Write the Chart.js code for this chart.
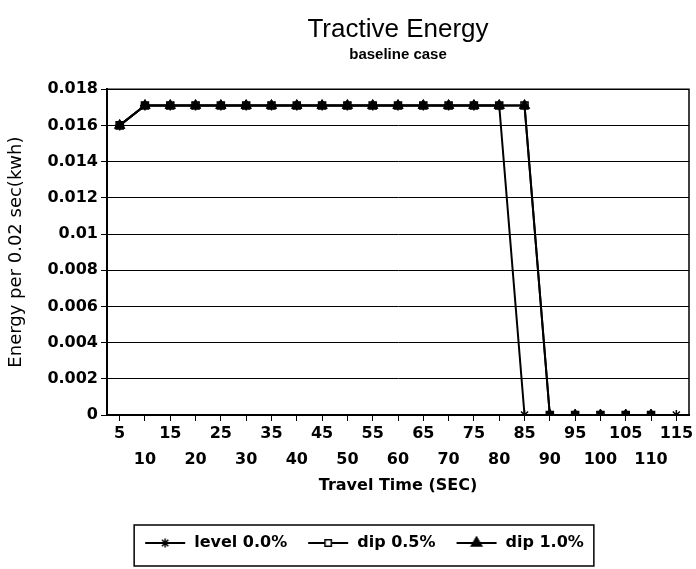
<!DOCTYPE html>
<html>
<head>
<meta charset="utf-8">
<script src="https://cdn.jsdelivr.net/npm/chart.js@4.4.0/dist/chart.umd.min.js"></script>
<style>
html, body { margin: 0; padding: 0; background: #fff; }
</style>
</head>
<body>
<canvas id="myChart" width="696" height="569"></canvas>
<script>
// travel time categories (sec)
const travelTime = [5, 10, 15, 20, 25, 30, 35, 40, 45, 50, 55, 60, 65, 70, 75, 80, 85, 90, 95, 100, 105, 110, 115];

// energy per 0.02 sec (kwh)
const level00 = [0.016, 0.0171, 0.0171, 0.0171, 0.0171, 0.0171, 0.0171, 0.0171, 0.0171, 0.0171, 0.0171, 0.0171, 0.0171, 0.0171, 0.0171, 0.0171, 0, 0, 0, 0, 0, 0, 0];
const dip05 = [0.016, 0.0171, 0.0171, 0.0171, 0.0171, 0.0171, 0.0171, 0.0171, 0.0171, 0.0171, 0.0171, 0.0171, 0.0171, 0.0171, 0.0171, 0.0171, 0.0171, 0, 0, 0, 0, 0, null];
const dip10 = [0.016, 0.0171, 0.0171, 0.0171, 0.0171, 0.0171, 0.0171, 0.0171, 0.0171, 0.0171, 0.0171, 0.0171, 0.0171, 0.0171, 0.0171, 0.0171, 0.0171, 0, 0, 0, 0, 0, null];

const seriesNames = ['level 0.0%', 'dip 0.5%', 'dip 1.0%'];

const yMin = 0;
const yMax = 0.018;
const yStep = 0.002;

const tickFont = { family: 'DejaVu Sans', size: 16, weight: 'bold' };

// small line + marker picture for the legend
function legendIcon(style, radius, fill) {
    const c = document.createElement('canvas');
    c.width = 42;
    c.height = 14;
    const g = c.getContext('2d');
    g.strokeStyle = '#000';
    g.lineWidth = 2;
    g.beginPath();
    g.moveTo(1, 7);
    g.lineTo(41, 7);
    g.stroke();
    g.fillStyle = fill;
    g.lineWidth = 1.5;
    Chart.helpers.drawPoint(g, { pointStyle: style, radius: radius, borderWidth: 1.5, rotation: 0 }, 21, 7);
    return c;
}

// nudge the legend a little right of the canvas centre, then frame it
const legendBox = {
    id: 'legendBox',
    afterLayout(chart) {
        chart.legend.left += 18;
        chart.legend.right += 18;
    },
    afterDraw(chart) {
        const boxes = chart.legend.legendHitBoxes;
        if (!boxes || !boxes.length) return;
        let l = Infinity, r = -Infinity;
        boxes.forEach(b => { l = Math.min(l, b.left); r = Math.max(r, b.left + b.width); });
        const ctx = chart.ctx;
        ctx.save();
        ctx.strokeStyle = '#000';
        ctx.lineWidth = 1.5;
        ctx.strokeRect(l - 10, 525, r - l + 20, 41);
        ctx.restore();
    }
};

const plotFrame = {
    id: 'plotFrame',
    afterDatasetsDraw(chart) {
        const a = chart.chartArea;
        const ctx = chart.ctx;
        ctx.save();
        ctx.strokeStyle = '#000';
        ctx.lineWidth = 1.5;
        ctx.beginPath();
        ctx.moveTo(a.left, a.top);
        ctx.lineTo(a.right, a.top);
        ctx.lineTo(a.right, a.bottom);
        ctx.stroke();
        ctx.restore();
    }
};

const ctx = document.getElementById('myChart').getContext('2d');
const myChart = new Chart(ctx, {
    type: 'line',
    data: {
        labels: travelTime,
        datasets: [{
            label: seriesNames[0],
            data: level00,
            borderColor: '#000',
            backgroundColor: '#000',
            borderWidth: 2,
            pointStyle: 'star',
            pointRadius: 5,
            pointBorderWidth: 1.5,
            order: 1
        }, {
            label: seriesNames[1],
            data: dip05,
            borderColor: '#000',
            backgroundColor: '#fff',
            borderWidth: 2,
            pointStyle: 'rect',
            pointRadius: 5,
            pointBorderWidth: 1.5,
            order: 2
        }, {
            label: seriesNames[2],
            data: dip10,
            borderColor: '#000',
            backgroundColor: '#000',
            borderWidth: 2,
            pointStyle: 'triangle',
            pointRadius: 6,
            pointBorderWidth: 1,
            order: 0
        }]
    },
    options: {
        responsive: false,
        animation: false,
        layout: { padding: { left: 0, right: 4, top: 0, bottom: 8 } },
        plugins: {
            title: {
                display: true,
                text: 'Tractive Energy',
                color: '#000',
                fullSize: false,
                font: { family: 'Liberation Sans', size: 26, weight: 'normal' },
                padding: { top: 14, bottom: 1 }
            },
            subtitle: {
                display: true,
                text: 'baseline case',
                color: '#000',
                fullSize: false,
                font: { family: 'Liberation Sans', size: 15, weight: 'bold' },
                padding: { top: 0, bottom: 25 }
            },
            legend: {
                position: 'bottom',
                fullSize: true,
                labels: {
                    color: '#000',
                    font: { family: 'DejaVu Sans', size: 16, weight: 'bold' },
                    usePointStyle: true,
                    pointStyleWidth: 42,
                    padding: 20,
                    generateLabels: function (chart) {
                        const icons = [
                            legendIcon('star', 4.5, '#000'),
                            legendIcon('rect', 4.5, '#fff'),
                            legendIcon('triangle', 6, '#000')
                        ];
                        return seriesNames.map((name, i) => ({
                            text: name,
                            pointStyle: icons[i],
                            fontColor: '#000',
                            strokeStyle: '#000',
                            fillStyle: '#000',
                            lineWidth: 0,
                            datasetIndex: i,
                            hidden: false
                        }));
                    }
                }
            },
            tooltip: { enabled: false }
        },
        scales: {
            x: {
                offset: true,
                afterFit: function (scale) { scale.height = 100; },
                grid: {
                    display: true,
                    drawOnChartArea: false,
                    drawTicks: true,
                    tickLength: 6,
                    color: '#000',
                    offset: false
                },
                border: { color: '#000', width: 2 },
                ticks: {
                    color: '#000',
                    font: Object.assign({ lineHeight: 1.6 }, tickFont),
                    autoSkip: false,
                    maxRotation: 0,
                    padding: 0,
                    callback: function (value, index) {
                        const lab = String(this.getLabelForValue(value));
                        return index % 2 === 0 ? [lab, ''] : ['', lab];
                    }
                },
                title: {
                    display: true,
                    text: 'Travel Time (SEC)',
                    color: '#000',
                    font: { family: 'DejaVu Sans', size: 16, weight: 'bold' },
                    padding: { top: 0, bottom: 20 }
                }
            },
            y: {
                min: yMin,
                max: yMax,
                afterFit: function (scale) { scale.width = 107; },
                grid: {
                    color: '#000',
                    lineWidth: 1,
                    drawTicks: true,
                    tickLength: 6
                },
                border: { color: '#000', width: 2 },
                ticks: {
                    stepSize: yStep,
                    color: '#000',
                    font: tickFont,
                    padding: 3,
                    callback: function (value) { return String(+value.toFixed(3)); }
                },
                title: {
                    display: true,
                    text: 'Energy per 0.02 sec(kwh)',
                    color: '#000',
                    font: { family: 'DejaVu Sans', size: 18, weight: 'normal' },
                    padding: { top: 6, bottom: 0 }
                }
            }
        }
    },
    plugins: [plotFrame, legendBox]
});
</script>
</body>
</html>
